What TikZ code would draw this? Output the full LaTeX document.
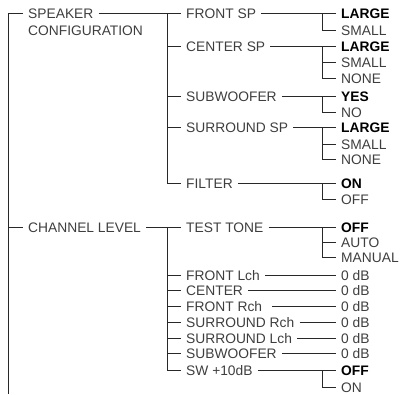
\documentclass[tikz,border=0pt]{standalone}
\usepackage{fontspec}
\setmainfont{Liberation Sans}
\usepackage{xcolor}
\usepackage{tikz}
\usetikzlibrary{positioning, calc}
\definecolor{menuInk}{RGB}{62,62,62}
\definecolor{lineInk}{RGB}{40,40,40}
\tikzstyle{item}  = [anchor=west, inner xsep=5pt, inner ysep=0pt,
                     text height=10pt, text depth=0pt,
                     font=\fontsize{13.8}{15}\selectfont, text=menuInk]
\tikzstyle{tree}  = [line width=0.7pt, draw=lineInk]

\begin{document}
\begin{tikzpicture}[
  x=1pt, y=-1pt,
  pick/.style={item, font=\fontsize{13.8}{15}\selectfont\bfseries, text=black}
]
  \useasboundingbox (0,0) rectangle (409,394);

  % Columns
  \coordinate (colA) at (167,0);
  \coordinate (colB) at (322,0);
  \coordinate (rootBot) at (8,394);

  % Top level
  \node[item] (spk) at (23,13) {SPEAKER};
  \node[item] (spkb) at (23,30) {CONFIGURATION};
  \node[item] (chlevel) at (23,227) {CHANNEL LEVEL};

  % Speaker configuration
  \node[item] (frontsp) at (181,13) {FRONT SP};
  \node[item] (centersp) at (181,46) {CENTER SP};
  \node[item] (subw) at (181,96) {SUBWOOFER};
  \node[item] (surrsp) at (181,127) {SURROUND SP};
  \node[item] (filter) at (181,183) {FILTER};

  \node[pick] (frontL) at (336,13) {LARGE};
  \node[item] (frontS) at (336,30) {SMALL};
  \node[pick] (centerL) at (336,46) {LARGE};
  \node[item] (centerS) at (336,62) {SMALL};
  \node[item] (centerN) at (336,78) {NONE};
  \node[pick] (subwY) at (336,96) {YES};
  \node[item] (subwN) at (336,112) {NO};
  \node[pick] (surrL) at (336,127) {LARGE};
  \node[item] (surrS) at (336,144) {SMALL};
  \node[item] (surrN) at (336,159) {NONE};
  \node[pick] (filterOn) at (336,183) {ON};
  \node[item] (filterOff) at (336,199) {OFF};

  % Channel level
  \node[item] (testtone) at (181,227) {TEST TONE};
  \node[item] (frontl) at (181,275) {FRONT Lch};
  \node[item] (center) at (181,290) {CENTER};
  \node[item] (frontr) at (181,306) {FRONT Rch};
  \node[item] (surrr) at (181,322) {SURROUND Rch};
  \node[item] (surrl) at (181,338) {SURROUND Lch};
  \node[item] (subwb) at (181,353) {SUBWOOFER};
  \node[item] (swten) at (181,370) {SW +10dB};

  \node[pick] (toneOff) at (336,227) {OFF};
  \node[item] (toneAuto) at (336,242) {AUTO};
  \node[item] (toneMan) at (336,257) {MANUAL};
  \node[item] (dbA) at (336,275) {0 dB};
  \node[item] (dbB) at (336,290) {0 dB};
  \node[item] (dbC) at (336,306) {0 dB};
  \node[item] (dbD) at (336,322) {0 dB};
  \node[item] (dbE) at (336,338) {0 dB};
  \node[item] (dbF) at (336,353) {0 dB};
  \node[pick] (swOff) at (336,370) {OFF};
  \node[item] (swOn) at (336,387) {ON};

  % Root
  \draw[tree] (spk.west) -| (rootBot);
  \draw[tree] (chlevel.west -| rootBot) -- (chlevel.west);

  % Level two
  \draw[tree] (spk.east) -- (frontsp.west);
  \draw[tree] (spk.east -| colA) |- (filter.west);
  \foreach \n in {centersp, subw, surrsp}
    \draw[tree] (\n.west -| colA) -- (\n.west);

  \draw[tree] (chlevel.east) -- (testtone.west);
  \draw[tree] (chlevel.east -| colA) |- (swten.west);
  \foreach \n in {frontl, center, frontr, surrr, surrl, subwb}
    \draw[tree] (\n.west -| colA) -- (\n.west);

  % Level three
  \draw[tree] (frontsp.east) -- (frontL.west);
  \draw[tree] (frontL.west -| colB) |- (frontS.west);

  \draw[tree] (centersp.east) -- (centerL.west);
  \draw[tree] (centerL.west -| colB) |- (centerN.west);
  \draw[tree] (centerS.west -| colB) -- (centerS.west);

  \draw[tree] (subw.east) -- (subwY.west);
  \draw[tree] (subwY.west -| colB) |- (subwN.west);

  \draw[tree] (surrsp.east) -- (surrL.west);
  \draw[tree] (surrL.west -| colB) |- (surrN.west);
  \draw[tree] (surrS.west -| colB) -- (surrS.west);

  \draw[tree] (filter.east) -- (filterOn.west);
  \draw[tree] (filterOn.west -| colB) |- (filterOff.west);

  \draw[tree] (testtone.east) -- (toneOff.west);
  \draw[tree] (toneOff.west -| colB) |- (toneMan.west);
  \draw[tree] (toneAuto.west -| colB) -- (toneAuto.west);

  \draw[tree] (frontl.east) -- (dbA.west);
  \draw[tree] (center.east) -- (dbB.west);
  \draw[tree] ([xshift=5pt]frontr.east) -- (dbC.west);
  \draw[tree] (surrr.east) -- (dbD.west);
  \draw[tree] (surrl.east) -- (dbE.west);
  \draw[tree] (subwb.east) -- (dbF.west);

  \draw[tree] (swten.east) -- (swOff.west);
  \draw[tree] (swOff.west -| colB) |- (swOn.west);

\end{tikzpicture}
\end{document}
